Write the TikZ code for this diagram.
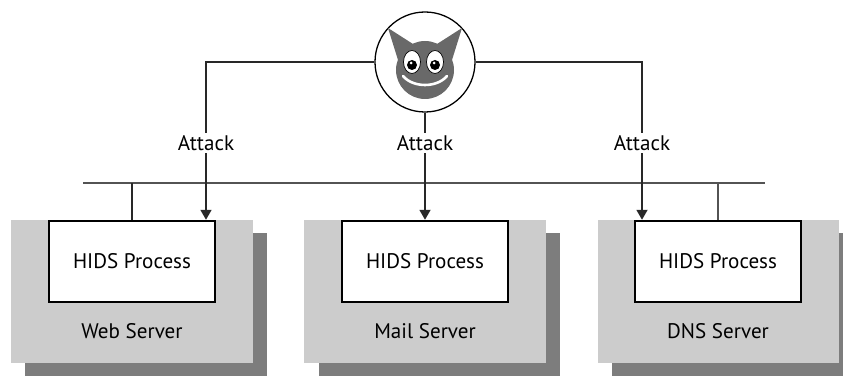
\documentclass[tikz,border=0pt]{standalone}
\usepackage{fontspec}
\setmainfont{PT Sans}
\usetikzlibrary{arrows.meta,positioning,shadows}

\definecolor{hostgray}{RGB}{204,204,204}
\definecolor{shadegray}{RGB}{125,125,125}
\definecolor{facegray}{RGB}{105,105,105}
\definecolor{wiregray}{RGB}{40,40,40}

\tikzset{
  txt/.style={font=\fontsize{18}{21}\selectfont},
  host/.style={fill=hostgray, minimum width=7.23cm, minimum height=4.29cm,
    drop shadow={shadow xshift=0.42cm, shadow yshift=-0.38cm, fill=shadegray, opacity=1}},
  hids/.style={draw, fill=white, line width=1.6pt, minimum width=5cm, minimum height=2.43cm, txt},
  wire/.style={draw=wiregray, line width=1.5pt},
  bus/.style={draw=wiregray!80, line width=2.2pt},
  atk/.style={txt, inner sep=2pt}
}

\begin{document}
\begin{tikzpicture}[x=0.03cm, y=-0.03cm, >={Triangle[width=0.33cm,length=0.3cm]}]
    \useasboundingbox (0,0) rectangle (843,376);

    % the three hosts
    \node[host] (web) at (132,291.5) {};
    \node[host] (mail) at (425,291.5) {};
    \node[host] (dns) at (718,291.5) {};
    \node[hids, below=0pt of web.north] (webHids) {HIDS Process};
    \node[hids, below=0pt of mail.north] (mailHids) {HIDS Process};
    \node[hids, below=0pt of dns.north] (dnsHids) {HIDS Process};
    \node[txt, below=0.5cm of webHids] (webLbl) {Web Server};
    \node[txt, below=0.5cm of mailHids] (mailLbl) {Mail Server};
    \node[txt, below=0.5cm of dnsHids] (dnsLbl) {DNS Server};

    % attacker
    \node[draw, circle, line width=1.1pt, minimum size=3cm] (attacker) at (425,62) {};
    \begin{scope}[shift={(attacker.center)}]
        \fill[facegray] (-37,-34) -- (-12,-18) -- (-27,-2) -- cycle;
        \fill[facegray] (37,-34) -- (12,-18) -- (27,-2) -- cycle;
        \fill[facegray] (0,8) circle (29);
        \filldraw[fill=white, draw=black, line width=0.6pt] (-13,0) ellipse (8.5 and 11.5);
        \filldraw[fill=white, draw=black, line width=0.6pt] (10,0) ellipse (8.5 and 11.5);
        \fill (-13,3) circle (5);
        \fill (10,3) circle (5);
        \fill[white] (-14,1) circle (1.5);
        \fill[white] (9,1) circle (1.5);
        \draw[white, line width=2.2pt, line cap=round] (-22,14) .. controls (-12,26) and (12,26) .. (22,14);
    \end{scope}

    % attack labels
    \node[atk] (atkWeb) at (206,143) {Attack};
    \node[atk] (atkMail) at (425,143) {Attack};
    \node[atk] (atkDns) at (642,143) {Attack};

    % network bus
    \coordinate (busL) at (83,183);
    \coordinate (busR) at (765,183);
    \draw[bus] (busL) -- (busR);
    \draw[wire] (webHids.north) -- (webHids.north |- busL);
    \draw[bus] (dnsHids.north) -- (dnsHids.north |- busR);

    % attacks
    \draw[wire] (attacker.west) -| (atkWeb);
    \draw[wire] (attacker.south) -- (atkMail);
    \draw[wire] (attacker.east) -| (atkDns);
    \draw[wire, ->] (atkWeb) -- (atkWeb |- webHids.north);
    \draw[wire, ->] (atkMail) -- (mailHids.north);
    \draw[wire, ->] (atkDns) -- (atkDns |- dnsHids.north);
\end{tikzpicture}
\end{document}
